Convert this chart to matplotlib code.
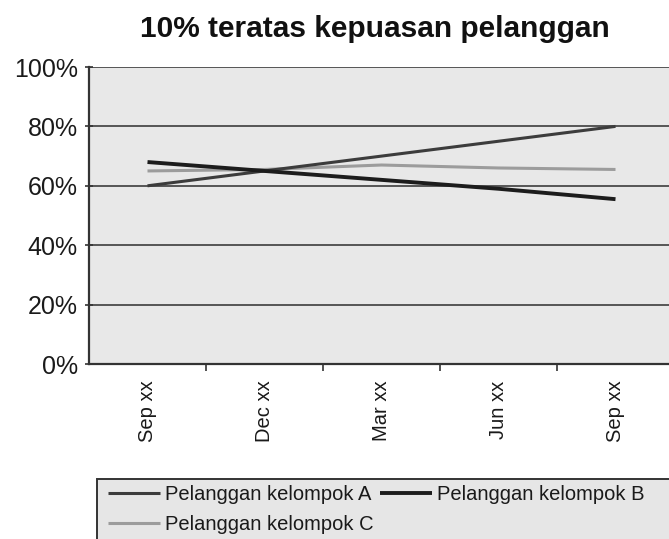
import matplotlib
matplotlib.use("Agg")
import matplotlib.pyplot as plt
from matplotlib.patches import Rectangle
from matplotlib.ticker import FixedLocator, PercentFormatter

plt.rcParams['font.family'] = ['Liberation Sans', 'DejaVu Sans']

categories = ["Sep xx", "Dec xx", "Mar xx", "Jun xx", "Sep xx"]
group_a = [60, 65, 70, 75, 80]
group_b = [68, 65, 62, 59, 55.5]
group_c = [65, 65.5, 67, 66, 65.5]
labels = ["Pelanggan kelompok A", "Pelanggan kelompok B", "Pelanggan kelompok C"]
yticks = [0, 20, 40, 60, 80, 100]
title = "10% teratas kepuasan pelanggan"

W, H = 669, 539
fig = plt.figure(figsize=(W / 100, H / 100), dpi=100)
fig.patch.set_facecolor("white")

left, right, top, bottom = 89, 674, 67, 364
ax = fig.add_axes([left / W, 1 - bottom / H, (right - left) / W, (bottom - top) / H])
ax.set_facecolor("#e8e8e8")

x = list(range(len(categories)))
lA, = ax.plot(x, group_a, color="#3c3c3c", lw=2.2, solid_capstyle="butt", zorder=3)
lB, = ax.plot(x, group_b, color="#1c1c1c", lw=2.8, solid_capstyle="butt", zorder=3)
lC, = ax.plot(x, group_c, color="#9c9c9c", lw=2.2, solid_capstyle="butt", zorder=2)

ax.set_xlim(-0.5, len(categories) - 0.5)
ax.set_ylim(0, 100)
ax.set_yticks(yticks)
ax.yaxis.set_major_formatter(PercentFormatter(decimals=0))
ax.grid(axis="y", color="#555555", lw=1.4)
ax.set_axisbelow(True)

ax.set_xticks(x)
ax.set_xticklabels(categories, rotation=90, fontsize=14.5, color="#1a1a1a")
ax.xaxis.set_minor_locator(FixedLocator([i + 0.5 for i in x[:-1]]))
ax.tick_params(axis="x", which="major", length=0, pad=12)
ax.tick_params(axis="x", which="minor", length=5, width=1.2, color="#333333", direction="out")
ax.tick_params(axis="y", length=6, width=1.2, color="#333333", direction="inout", labelsize=18, pad=5, labelcolor="#1a1a1a")

for s in ["right", "top"]:
    ax.spines[s].set_visible(False)
for s in ["left", "bottom"]:
    ax.spines[s].set_color("#333333")
    ax.spines[s].set_linewidth(1.6)

fig.text(375 / W, 1 - 29 / H, title, ha="center", va="center",
         fontsize=21.5, fontweight="bold", color="#111111")

# legend box
fig.patches.append(Rectangle((97 / W, -0.05), 1.0, 1 - 479 / H + 0.05,
                             transform=fig.transFigure, facecolor="#e6e6e6",
                             edgecolor="#333333", lw=1.4, zorder=1))
leg = fig.legend([lA, lC, lB], [labels[0], labels[2], labels[1]], ncol=2,
                 loc="upper left", bbox_to_anchor=(104 / W, 1 - 481 / H),
                 frameon=False, fontsize=14.5, handlelength=2.6, handletextpad=0.25,
                 columnspacing=0.3, labelspacing=0.55, borderpad=0.2, borderaxespad=0)
for t in leg.get_texts():
    t.set_color("#1a1a1a")

fig.savefig("out.png", dpi=100)
